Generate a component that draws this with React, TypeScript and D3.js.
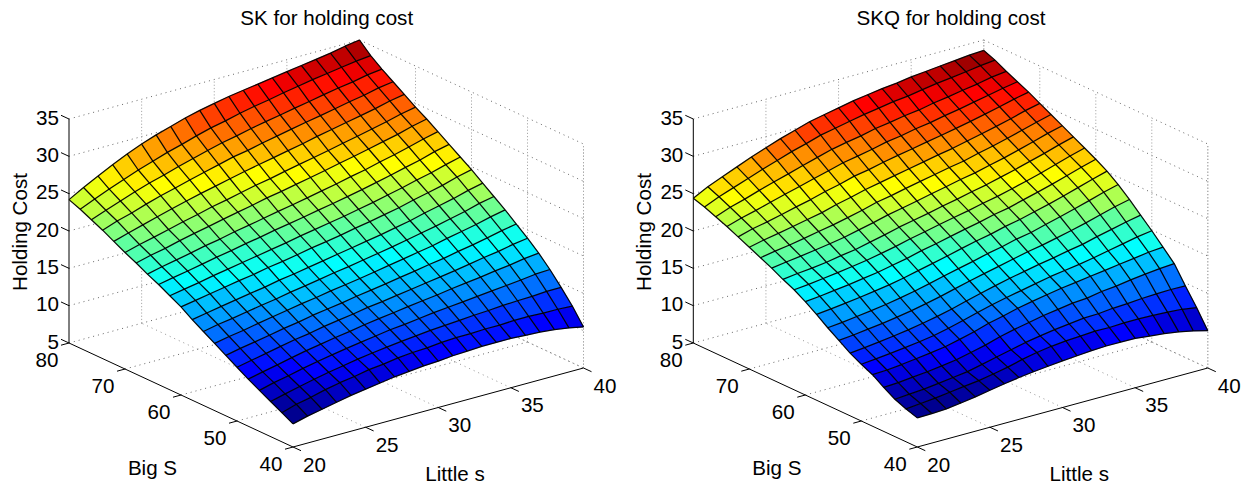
import React from "react";
import * as d3 from "d3";

const littleS = [20,21,22,23,24,25,26,27,28,29,30,31,32,33,34,35,36,37,38,39,40];
const bigS = [40,42,44,46,48,50,52,54,56,58,60,62,64,66,68,70,72,74,76,78,80];
const sTicks = [20,25,30,35,40];
const bigSTicks = [40,50,60,70,80];
const zTicks = [5,10,15,20,25,30,35];

// Holding cost: one row per Big S, one column per Little s
const skCost = [
[8.1,8.6,9.0,9.4,9.8,10.1,10.4,10.7,10.9,11.1,11.2,11.4,11.5,11.6,11.6,11.6,11.5,11.4,11.2,10.9,10.5],
[8.9,9.5,9.9,10.4,10.8,11.1,11.5,11.7,12.0,12.2,12.3,12.5,12.6,12.6,12.7,12.7,12.8,12.8,12.7,12.7,12.6],
[9.7,10.2,10.65,11.1,11.5,11.85,12.2,12.5,12.75,13.0,13.2,13.4,13.55,13.7,13.85,13.95,14.1,14.2,14.25,14.4,14.4],
[10.5,11.0,11.4,11.85,12.25,12.6,12.95,13.25,13.55,13.85,14.05,14.3,14.55,14.75,14.95,15.15,15.35,15.55,15.75,16.0,16.1],
[11.3,11.75,12.15,12.6,13.0,13.35,13.7,14.0,14.35,14.65,14.9,15.2,15.45,15.7,16.0,16.25,16.5,16.8,17.05,17.4,17.6],
[12.2,12.6,13.0,13.4,13.8,14.1,14.5,14.8,15.1,15.45,15.7,16.0,16.3,16.6,16.9,17.2,17.55,17.9,18.2,18.6,18.9],
[13.1,13.5,13.85,14.2,14.6,14.9,15.3,15.6,15.9,16.25,16.55,16.85,17.2,17.5,17.85,18.15,18.55,18.9,19.3,19.75,20.1],
[14,14.4,14.7,15.1,15.45,15.8,16.15,16.45,16.8,17.1,17.4,17.75,18.1,18.45,18.8,19.15,19.6,20.0,20.4,20.9,21.3],
[14.9,15.3,15.6,15.95,16.3,16.6,17.0,17.3,17.65,18.0,18.3,18.65,19.0,19.35,19.75,20.15,20.55,21.0,21.45,22.0,22.4],
[15.8,16.15,16.5,16.85,17.2,17.5,17.9,18.2,18.55,18.9,19.25,19.6,19.95,20.3,20.7,21.1,21.6,22.05,22.5,23.05,23.5],
[16.8,17.15,17.5,17.85,18.2,18.5,18.9,19.2,19.55,19.95,20.25,20.6,21.0,21.35,21.75,22.15,22.65,23.1,23.55,24.15,24.6],
[17.6,17.95,18.3,18.7,19.05,19.4,19.75,20.1,20.45,20.85,21.2,21.55,21.9,22.3,22.7,23.15,23.6,24.1,24.55,25.1,25.6],
[18.4,18.8,19.15,19.55,19.95,20.3,20.7,21.05,21.45,21.8,22.15,22.55,22.9,23.3,23.7,24.15,24.6,25.1,25.55,26.15,26.6],
[19.1,19.55,19.95,20.35,20.8,21.15,21.6,21.95,22.35,22.75,23.1,23.5,23.9,24.3,24.75,25.15,25.65,26.1,26.6,27.15,27.6],
[19.9,20.4,20.8,21.3,21.75,22.15,22.6,23.0,23.4,23.85,24.2,24.6,25.0,25.4,25.85,26.25,26.7,27.15,27.6,28.15,28.6],
[20.6,21.15,21.6,22.1,22.6,23.05,23.55,23.95,24.4,24.85,25.2,25.65,26.05,26.45,26.85,27.3,27.7,28.15,28.6,29.1,29.5],
[21.4,22.0,22.55,23.1,23.65,24.15,24.65,25.1,25.55,26.0,26.4,26.8,27.2,27.6,28.05,28.45,28.85,29.25,29.65,30.15,30.5],
[22.2,22.9,23.45,24.1,24.7,25.2,25.75,26.25,26.75,27.25,27.6,28.05,28.45,28.85,29.25,29.6,30.0,30.4,30.75,31.2,31.5],
[22.9,23.65,24.35,25.05,25.7,26.25,26.85,27.4,27.95,28.45,28.85,29.3,29.7,30.05,30.45,30.8,31.2,31.55,31.85,32.25,32.5],
[23.6,24.45,25.25,26.0,26.75,27.4,28.05,28.6,29.2,29.75,30.15,30.65,31.05,31.4,31.8,32.15,32.5,32.8,33.1,33.4,33.6],
[24.2,25.3,26.3,27.3,28.2,29.0,29.7,30.3,30.9,31.4,31.8,32.2,32.5,32.8,33.1,33.4,33.7,34.0,34.3,34.7,35.0],
];

// Holding cost
const skqCost = [
[8.9,8.95,9.05,9.3,9.6,9.95,10.3,10.6,10.85,11.05,11.25,11.4,11.55,11.65,11.65,11.6,11.4,11.2,10.9,10.5,10.0],
[9.4,9.6,9.8,10.05,10.3,10.55,10.9,11.3,11.8,12.2,12.5,12.7,12.8,12.95,12.9,13.0,13.0,12.95,12.85,12.7,12.4],
[10.0,10.15,10.3,10.55,10.8,11.05,11.5,11.95,12.4,12.85,13.2,13.5,13.75,14.0,14.05,14.25,14.35,14.5,14.6,14.65,14.6],
[10.9,11.0,11.2,11.4,11.65,11.95,12.4,12.85,13.45,13.9,14.3,14.7,15.0,15.3,15.45,15.8,16.0,16.3,16.55,16.75,16.9],
[11.9,12.0,12.2,12.45,12.7,13.0,13.45,13.95,14.55,15.0,15.5,15.9,16.25,16.6,16.85,17.15,17.4,17.7,17.95,18.25,18.4],
[12.6,12.8,13.0,13.25,13.5,13.8,14.25,14.75,15.3,15.8,16.25,16.65,17.05,17.45,17.75,18.05,18.4,18.8,19.2,19.6,19.9],
[13.4,13.6,13.85,14.1,14.4,14.75,15.15,15.6,16.15,16.65,17.15,17.6,18.0,18.4,18.75,19.15,19.5,20.0,20.45,20.9,21.3],
[14.4,14.6,14.85,15.1,15.4,15.75,16.15,16.6,17.1,17.6,18.05,18.5,18.95,19.4,19.75,20.2,20.65,21.15,21.7,22.25,22.7],
[15.4,15.6,15.85,16.1,16.4,16.75,17.15,17.6,18.1,18.55,19.0,19.5,19.9,20.4,20.75,21.3,21.8,22.35,22.9,23.5,24],
[16.5,16.7,16.95,17.2,17.5,17.8,18.2,18.65,19.1,19.55,20.05,20.5,20.9,21.4,21.8,22.3,22.8,23.35,23.95,24.55,25.1],
[17.5,17.7,17.95,18.2,18.5,18.8,19.2,19.6,20.1,20.5,20.95,21.4,21.8,22.3,22.65,23.2,23.7,24.25,24.85,25.45,26],
[18.4,18.6,18.85,19.1,19.4,19.7,20.1,20.5,21.0,21.4,21.85,22.25,22.65,23.1,23.5,24.0,24.5,25.05,25.65,26.25,26.8],
[19.1,19.35,19.55,19.8,20.15,20.45,20.9,21.35,21.85,22.25,22.65,23.1,23.5,23.95,24.35,24.85,25.35,25.9,26.45,27.05,27.6],
[19.9,20.2,20.45,20.75,21.05,21.4,21.85,22.3,22.8,23.2,23.6,24.05,24.45,24.9,25.25,25.75,26.2,26.75,27.3,27.9,28.4],
[20.6,20.95,21.25,21.6,22.0,22.35,22.8,23.25,23.8,24.15,24.6,25.0,25.4,25.8,26.15,26.65,27.1,27.6,28.15,28.7,29.2],
[21.3,21.75,22.1,22.5,22.9,23.3,23.85,24.3,24.8,25.2,25.6,26.0,26.4,26.8,27.15,27.6,28.05,28.5,29.0,29.55,30],
[22,22.55,22.95,23.4,23.9,24.35,24.9,25.35,25.9,26.25,26.7,27.1,27.45,27.85,28.2,28.6,29.0,29.45,29.9,30.4,30.8],
[22.7,23.3,23.8,24.35,24.9,25.4,25.95,26.45,27.0,27.35,27.75,28.2,28.5,28.9,29.2,29.6,29.95,30.35,30.75,31.15,31.5],
[23.3,24.05,24.6,25.25,25.85,26.4,27.0,27.55,28.1,28.5,28.85,29.3,29.6,29.95,30.2,30.6,30.9,31.25,31.55,31.95,32.2],
[23.9,24.75,25.45,26.15,26.85,27.5,28.15,28.7,29.3,29.7,30.1,30.5,30.8,31.15,31.35,31.7,32.0,32.25,32.5,32.8,33],
[24.4,25.4,26.2,27.0,27.8,28.5,29.2,29.8,30.4,30.8,31.2,31.6,31.9,32.2,32.4,32.7,32.9,33.1,33.3,33.5,33.6],
];

const FONT = "'Liberation Sans', Arial, Helvetica, sans-serif";

// Oblique view of the box, as the three scales that make up a screen position
const sToX = d3.scaleLinear().domain([20, 40]).range([0, 290.5]);
const sToY = d3.scaleLinear().domain([20, 40]).range([0, -79]);
const bigSToX = d3.scaleLinear().domain([40, 80]).range([0, -224]);
const bigSToY = d3.scaleLinear().domain([40, 80]).range([0, -104]);
const zToY = d3.scaleLinear().domain([5, 35]).range([447, 223]);

const jetColors = ["rgb(0,0,128)", "rgb(0,0,255)", "rgb(0,255,255)", "rgb(255,255,0)", "rgb(255,0,0)", "rgb(128,0,0)"];
const jet = d3.scaleLinear<string>().domain([0, 0.125, 0.375, 0.625, 0.875, 1]).range(jetColors);

function Panel({ title, cost, originX }: { title: string; cost: number[][]; originX: number }) {
  const px = (s: number, S: number) => originX + sToX(s) + bigSToX(S);
  const py = (s: number, S: number, z: number) => zToY(z) + sToY(s) + bigSToY(S);
  const line = d3.line();
  const seg = (a: number[], b: number[]) => line([a as [number, number], b as [number, number]]) as string;
  const pt = (s: number, S: number, z: number) => [px(s, S), py(s, S, z)];

  const flat = cost.flat();
  const zMin = d3.min(flat) as number;
  const zMax = d3.max(flat) as number;
  const level = (z: number) => {
    const idx = Math.min(63, Math.floor(((z - zMin) / (zMax - zMin)) * 64));
    return jet((idx + 1) / 64);
  };

  const fills: React.ReactNode[] = [];
  const seams: React.ReactNode[] = [];
  for (let i = bigS.length - 2; i >= 0; i--) {
    for (let j = littleS.length - 2; j >= 0; j--) {
      const a = pt(littleS[j], bigS[i], cost[i][j]);
      const b = pt(littleS[j + 1], bigS[i], cost[i][j + 1]);
      const c = pt(littleS[j + 1], bigS[i + 1], cost[i + 1][j + 1]);
      const d = pt(littleS[j], bigS[i + 1], cost[i + 1][j]);
      const path = (line([a, b, c, d] as [number, number][]) as string) + "Z";
      const along = d3.interpolateArray(a, c);
      fills.push(<path key={`f${i}-${j}`} d={path} fill={level(cost[i][j])} stroke={level(cost[i][j])} strokeWidth={0.4} />);
      seams.push(
        <path key={`w${i}-${j}`} d={seg(along(0.24) as number[], along(0.76) as number[])} stroke="#fff" strokeOpacity={0.32} strokeWidth={0.6} fill="none" />
      );
    }
  }
  const rowLines = bigS.map((S, i) => (
    <path key={`r${S}`} d={line(littleS.map((s, j) => pt(s, S, cost[i][j]) as [number, number])) as string} fill="none" stroke="#000" strokeOpacity={0.95} strokeWidth={1.25} strokeLinejoin="round" />
  ));
  const colLines = littleS.map((s, j) => (
    <path key={`c${s}`} d={line(bigS.map((S, i) => pt(s, S, cost[i][j]) as [number, number])) as string} fill="none" stroke="#000" strokeOpacity={0.95} strokeWidth={1.25} strokeLinejoin="round" />
  ));

  const s0 = 20, s1 = 40, S0 = 40, S1 = 80, z0 = 5, z1 = 35;
  const dotH = { stroke: "#555", strokeWidth: 0.9, strokeDasharray: "1 4", fill: "none" };
  const dotV = { stroke: "#aaa", strokeWidth: 1, strokeDasharray: "1.2 2", fill: "none" };
  const axis = { stroke: "#000", strokeWidth: 1, fill: "none" };
  const text = { fontFamily: FONT, fontSize: 20.6, fill: "#000" };

  return (
    <g>
      {/* back walls and floor */}
      {zTicks.map((z) => (
        <g key={`zw${z}`}>
          <path d={seg(pt(s0, S1, z), pt(s1, S1, z))} {...dotH} />
          <path d={seg(pt(s1, S1, z), pt(s1, S0, z))} {...dotH} />
        </g>
      ))}
      {sTicks.map((s) => (
        <g key={`sw${s}`}>
          {s > s0 && <path d={seg(pt(s, S1, z0), pt(s, S1, z1))} {...dotV} />}
          {s > s0 && <path d={seg(pt(s, S0, z0), pt(s, S1, z0))} {...dotH} stroke="#888" />}
        </g>
      ))}
      {bigSTicks.map((S) => (
        <g key={`Sw${S}`}>
          {S < S1 && <path d={seg(pt(s1, S, z0), pt(s1, S, z1))} {...dotV} />}
          {S < S1 && S > S0 && <path d={seg(pt(s0, S, z0), pt(s1, S, z0))} {...dotH} />}
        </g>
      ))}
      <path d={seg(pt(s1, S1, z0), pt(s1, S1, z1))} {...dotV} />
      <path d={seg(pt(s1, S0, z0), pt(s1, S0, z1))} {...dotV} />

      {/* axes */}
      <path d={seg(pt(s0, S1, z0), pt(s0, S1, z1))} {...axis} />
      <path d={seg(pt(s0, S0, z0), pt(s0, S1, z0))} {...axis} />
      <path d={seg(pt(s0, S0, z0), pt(s1, S0, z0))} {...axis} />

      {zTicks.map((z) => {
        const [x, y] = pt(s0, S1, z);
        return (
          <g key={`zt${z}`}>
            <line x1={x} y1={y} x2={x - 8} y2={y - 3.7} {...axis} />
            <text x={x - 10} y={y - 2} textAnchor="end" dominantBaseline="central" {...text}>{z}</text>
          </g>
        );
      })}
      {bigSTicks.map((S) => {
        const [x, y] = pt(s0, S, z0);
        return (
          <g key={`St${S}`}>
            <line x1={x} y1={y} x2={x - 8} y2={y + 2.2} {...axis} />
            <text x={x - 22} y={y + 16.5} textAnchor="middle" dominantBaseline="central" {...text}>{S}</text>
          </g>
        );
      })}
      {sTicks.map((s) => {
        const [x, y] = pt(s, S0, z0);
        return (
          <g key={`st${s}`}>
            <line x1={x} y1={y} x2={x + 8} y2={y + 3.7} {...axis} />
            <text x={x + 21.5} y={y + 17} textAnchor="middle" dominantBaseline="central" {...text}>{s}</text>
          </g>
        );
      })}

      {/* surface */}
      {fills}
      {seams}
      {rowLines}
      {colLines}

      <text x={originX + 33.7} y={25} textAnchor="middle" {...text}>{title}</text>
      <text x={originX - 140.5} y={475} textAnchor="middle" {...text}>Big S</text>
      <text x={originX + 162} y={481} textAnchor="middle" {...text}>Little s</text>
      <text transform={`translate(${originX - 266.5},232) rotate(-90)`} textAnchor="middle" {...text}>Holding Cost</text>
    </g>
  );
}

export default function App() {
  return (
    <svg width={1252} height={488} style={{ position: "absolute", left: 0, top: 0, display: "block", background: "#fff" }}>
      <Panel title="SK for holding cost" cost={skCost} originX={293} />
      <Panel title="SKQ for holding cost" cost={skqCost} originX={917.3} />
    </svg>
  );
}
